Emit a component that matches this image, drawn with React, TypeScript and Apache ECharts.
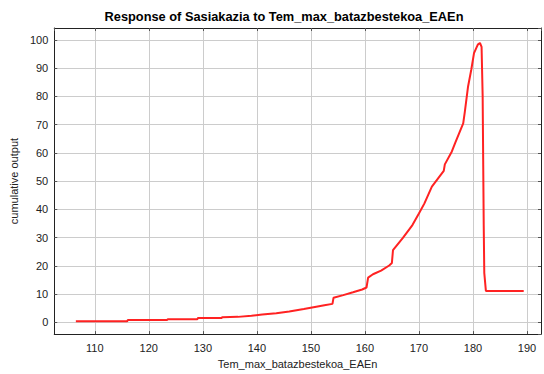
import React, { useEffect, useRef } from "react";
import * as echarts from "echarts";

// Response curve: input temperature (x) vs cumulative output (y)
const tempValues: number[] = [
  106.5, 116.0, 116.1, 123.4, 123.5, 129.0, 129.1, 133.5, 133.6, 136.5,
  139.0, 141.0, 143.6, 146.0, 148.7, 151.0, 152.5, 154.0, 154.2, 156.0,
  157.8, 159.5, 160.3, 160.6, 161.5, 163.0, 164.5, 165.0, 165.2, 167.0,
  168.8, 170.0, 171.0, 172.4, 174.6, 174.8, 176.1, 176.7, 178.2, 178.5,
  179.1, 179.7, 180.2, 180.9, 181.3, 181.6, 181.8, 182.0, 182.1, 182.4,
  189.4,
];
const outputValues: number[] = [
  0.35, 0.35, 0.75, 0.75, 1.1, 1.1, 1.5, 1.5, 1.8, 1.9,
  2.3, 2.7, 3.2, 3.8, 4.7, 5.5, 6.0, 6.5, 8.7, 9.6,
  10.6, 11.6, 12.3, 15.8, 17.0, 18.3, 20.1, 21.0, 25.5, 29.8,
  34.4, 38.5, 42.0, 48.0, 53.6, 55.9, 60.5, 63.4, 70.4, 74.5,
  83.5, 89.5, 95.3, 98.3, 98.9, 97.5, 80.0, 34.0, 17.5, 11.1,
  11.1,
];

const xRange = [102.5, 192.6];
const yRange = [-4.2, 104.2];

const titleText = "Response of Sasiakazia to Tem_max_batazbestekoa_EAEn";
const xName = "Tem_max_batazbestekoa_EAEn";
const yName = "cumulative output";

const FONT = "'Liberation Sans', Arial, sans-serif";

export default function App() {
  const ref = useRef<HTMLDivElement>(null);

  useEffect(() => {
    if (!ref.current) return;
    const chart = echarts.init(ref.current, undefined, { renderer: "svg" });
    const points = tempValues.map((x, i) => [x, outputValues[i]]);

    const frameAxis = {
      axisTick: { show: true, inside: true, length: 3, lineStyle: { color: "#555" } },
      axisLabel: { show: false },
      splitLine: { show: false },
      minInterval: 10,
      maxInterval: 10,
    };

    chart.setOption({
      animation: false,
      backgroundColor: "#ffffff",
      graphic: [
        {
          type: "text",
          x: 284,
          y: 10,
          style: {
            text: titleText,
            textAlign: "center",
            textVerticalAlign: "top",
            fontFamily: FONT,
            fontSize: 12.8,
            fontWeight: "bold",
            fill: "#000",
          },
        },
      ],
      grid: { left: 46, right: 3, top: 28, bottom: 35, containLabel: false },
      xAxis: [
        {
          type: "value",
          min: xRange[0],
          max: xRange[1],
          minInterval: 10,
          maxInterval: 10,
          splitNumber: 9,
          name: xName,
          nameLocation: "middle",
          nameGap: 22,
          nameTextStyle: { fontFamily: FONT, fontSize: 11, color: "#222" },
          axisLine: { show: true, onZero: false, lineStyle: { color: "#222", width: 1 } },
          axisTick: { show: true, inside: true, length: 3, lineStyle: { color: "#555" } },
          axisLabel: {
            fontFamily: FONT,
            fontSize: 11,
            color: "#222",
            margin: 8,
            showMinLabel: false,
            showMaxLabel: false,
          },
          splitLine: { show: true, lineStyle: { color: "#cccccc", width: 1 } },
        },
        {
          type: "value",
          position: "top",
          min: xRange[0],
          max: xRange[1],
          splitNumber: 9,
          ...frameAxis,
          axisLine: { show: true, onZero: false, lineStyle: { color: "#222", width: 1 } },
        },
      ],
      yAxis: [
        {
          type: "value",
          min: yRange[0],
          max: yRange[1],
          minInterval: 10,
          maxInterval: 10,
          splitNumber: 10,
          name: yName,
          nameLocation: "middle",
          nameGap: 26,
          nameTextStyle: { fontFamily: FONT, fontSize: 11, color: "#222" },
          axisLine: { show: true, onZero: false, lineStyle: { color: "#222", width: 1 } },
          axisTick: { show: true, inside: true, length: 3, lineStyle: { color: "#555" } },
          axisLabel: {
            fontFamily: FONT,
            fontSize: 11,
            color: "#222",
            margin: 6,
            showMinLabel: false,
            showMaxLabel: false,
          },
          splitLine: { show: true, lineStyle: { color: "#cccccc", width: 1 } },
        },
        {
          type: "value",
          position: "right",
          min: yRange[0],
          max: yRange[1],
          splitNumber: 10,
          ...frameAxis,
          axisLine: { show: true, onZero: false, lineStyle: { color: "#222", width: 1 } },
        },
      ],
      series: [
        {
          type: "line",
          data: points,
          xAxisIndex: 0,
          yAxisIndex: 0,
          showSymbol: false,
          symbol: "none",
          lineStyle: { color: "#ff2222", width: 2 },
        },
      ],
    });

    return () => chart.dispose();
  }, []);

  return (
    <div
      ref={ref}
      style={{ position: "fixed", left: 0, top: 0, width: 544, height: 374 }}
    />
  );
}
